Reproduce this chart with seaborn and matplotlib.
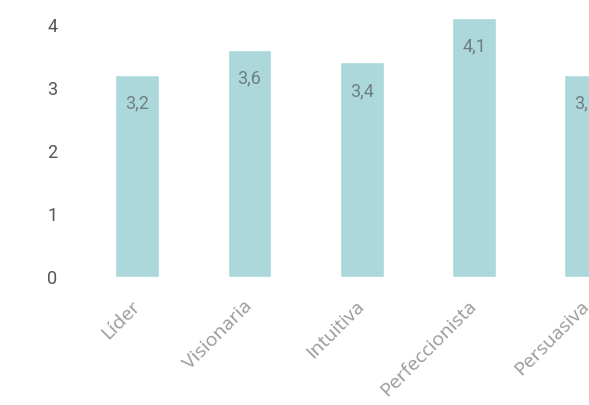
import matplotlib
matplotlib.use("Agg")
import matplotlib.pyplot as plt
import seaborn as sns
import pandas as pd

# Profile traits and their average scores
categories = ["Líder", "Visionaria", "Intuitiva", "Perfeccionista", "Persuasiva"]
scores = [3.2, 3.6, 3.4, 4.1, 3.2]
y_ticks = [0, 1, 2, 3, 4]

df = pd.DataFrame({"rasgo": categories, "puntaje": scores})

sns.set_theme(style="white")
plt.rcParams["font.family"] = ["Roboto", "DejaVu Sans"]

fig = plt.figure(figsize=(5.89, 4.05), dpi=100)
# The plotting area runs past the right edge of the canvas
ax = fig.add_axes([81 / 589, 128 / 405, 561.5 / 589, 277 / 405])

sns.barplot(data=df, x="rasgo", y="puntaje", color="#acd8dc", width=0.39,
            saturation=1, ax=ax)

ax.set_xlim(-0.5, len(categories) - 0.5)
ax.set_ylim(0, 4.39)
ax.set_yticks(y_ticks)
ax.set_yticklabels([str(t) for t in y_ticks])
ax.set_xlabel("")
ax.set_ylabel("")

for side in ax.spines.values():
    side.set_visible(False)

ax.tick_params(axis="y", length=0, pad=17, labelsize=13, labelcolor="#555555")
ax.tick_params(axis="x", length=0, pad=19, labelsize=14, labelcolor="#9a9a9a")
for lbl in ax.get_xticklabels():
    lbl.set_family(["Open Sans", "DejaVu Sans"])
    lbl.set_rotation(45)
    lbl.set_ha("right")
    lbl.set_rotation_mode("anchor")
    lbl.set_va("center")

ax.bar_label(ax.containers[0],
             labels=[f"{v:.1f}".replace(".", ",") for v in scores],
             padding=-27, fontsize=13, color="#6f7f80")

fig.savefig("out.png", dpi=100)
